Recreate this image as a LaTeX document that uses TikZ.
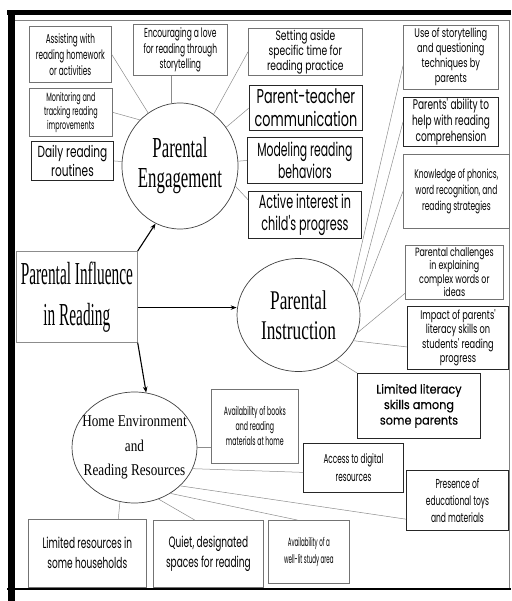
\documentclass[tikz,border=0pt]{standalone}
\usepackage{fontspec}
\usepackage{tikz}
\usetikzlibrary{shapes.geometric,positioning,arrows.meta}
\newfontfamily\gothfont{Poppins}
\newfontfamily\serfont{Liberation Serif}
\newcommand\leaffont[3]{\gothfont\addfontfeatures{FakeStretch=#1}\fontsize{#2}{#3}\selectfont}
\newcommand\hubfont[3]{\serfont\addfontfeatures{FakeStretch=#1}\fontsize{#2}{#3}\selectfont}
\tikzset{
  leaf/.style={draw=black!55, line width=0.7pt, align=center, inner sep=1pt, anchor=north west},
  leafdark/.style={leaf, draw=black!85, line width=0.9pt},
  hub/.style={ellipse, draw=black!75, line width=0.7pt, align=center, inner sep=-12pt},
  link/.style={draw=black!45, line width=0.5pt},
  feed/.style={-{Stealth[length=6pt,width=4.5pt]}, line width=1.1pt},
}

\begin{document}
\begin{tikzpicture}[x=1pt,y=-1pt]
                   \useasboundingbox (0,0) rectangle (511,601);
                   \fill (7,10) rectangle (511,15);
                   \draw[black!50, line width=0.6pt] (14,20) -- (509,20) -- (509,588);
                   \fill (8,15) rectangle (14.5,601);
                   \fill (7,587.5) rectangle (511,590);

                   \node[hub, minimum width=116, minimum height=126, font={\hubfont{0.58}{29}{30}}] (p_eng) at (180,166) {Parental\\Engagement};
                   \node[hub, minimum width=123, minimum height=113, font={\hubfont{0.64}{27}{30}}] (p_ins) at (298.5,315) {Parental\\Instruction};
                   \node[hub, minimum width=125, minimum height=111, font={\hubfont{0.8}{16.5}{24.5}}] (p_home) at (134.5,447.5) {Home Environment\\and\\Reading Resources};
                   \node[leaf, draw=black!45, minimum width=121, minimum height=91, font={\hubfont{0.48}{32}{41}}] (p_root) at (16,251) {Parental Influence\\in Reading};

                   \node[leaf, minimum width=82, minimum height=56, font={\leaffont{0.56}{13}{16}}] (e_1) at (29,26) {Assisting with\\reading homework\\or activities};
                   \node[leaf, minimum width=94, minimum height=51, font={\leaffont{0.58}{13}{15.5}}] (e_2) at (133,24) {Encouraging a love\\for reading through\\storytelling};
                   \node[leaf, minimum width=114, minimum height=47, font={\leaffont{0.68}{13.5}{15}}] (e_3) at (248,28) {Setting aside\\specific time for\\reading practice};
                   \node[leaf, minimum width=83, minimum height=48, font={\leaffont{0.54}{12}{14}}] (e_4) at (29,88) {Monitoring and\\tracking reading\\improvements};
                   \node[leafdark, minimum width=113, minimum height=45, font={\leaffont{0.64}{20}{23}}] (e_5) at (249,85) {Parent-teacher\\communication};
                   \node[leafdark, minimum width=82, minimum height=39, font={\leaffont{0.66}{16}{19}}] (e_6) at (31,141) {Daily reading\\routines};
                   \node[leafdark, minimum width=115, minimum height=46, font={\leaffont{0.57}{19}{22}}] (e_7) at (247,137) {Modeling reading\\behaviors};
                   \node[leafdark, minimum width=113, minimum height=47, font={\leaffont{0.59}{19}{22}}] (e_8) at (248,191) {Active interest in\\child's progress};

                   \node[leaf, minimum width=95, minimum height=64, font={\leaffont{0.66}{12.5}{15}}] (i_1) at (403,25) {Use of storytelling\\and questioning\\techniques by\\parents};
                   \node[leafdark, minimum width=95, minimum height=49, font={\leaffont{0.64}{14}{16}}] (i_2) at (403,97) {Parents' ability to\\help with reading\\comprehension};
                   \node[leaf, minimum width=106, minimum height=74, font={\leaffont{0.6}{12.5}{16}}] (i_3) at (403,154) {Knowledge of phonics,\\word recognition, and\\reading strategies};
                   \node[leaf, minimum width=98, minimum height=54, font={\leaffont{0.66}{12}{13.5}}] (i_4) at (405,245) {Parental challenges\\in explaining\\complex words or\\ideas};
                   \node[leafdark, minimum width=101, minimum height=63, font={\leaffont{0.66}{12.5}{14.5}}] (i_5) at (407,306) {Impact of parents'\\literacy skills on\\students' reading\\progress};
                   \node[leafdark, minimum width=123, minimum height=65, font={\leaffont{0.9}{12.5}{15.5}\addfontfeatures{FakeBold=0.3}}] (i_6) at (357,373) {Limited literacy\\skills among\\some parents};

                   \node[leaf, minimum width=87, minimum height=74, font={\leaffont{0.52}{12}{15}}] (h_1) at (211,389) {Availability of books\\and reading\\materials at home};
                   \node[leafdark, minimum width=100, minimum height=49, font={\leaffont{0.56}{13}{18}}] (h_2) at (303,443) {Access to digital\\resources};
                   \node[leafdark, minimum width=102, minimum height=60, font={\leaffont{0.58}{13}{17}}] (h_3) at (406,470) {Presence of\\educational toys\\and materials};
                   \node[leaf, minimum width=118, minimum height=68, font={\leaffont{0.6}{15}{20}}] (h_4) at (28,519) {Limited resources in\\some households};
                   \node[leaf, minimum width=110, minimum height=67, font={\leaffont{0.6}{15}{20}}] (h_5) at (153,520) {Quiet, designated\\spaces for reading};
                   \node[leaf, minimum width=81, minimum height=63, font={\leaffont{0.46}{12}{17}}] (h_6) at (268,520) {Availability of a\\well-lit study area};

                    \path[link]
                    (e_1.east) edge (p_eng.121)
                    (e_2.250) edge (e_2.250 |- p_eng.north)
                    (e_3.west) edge (p_eng.57)
                    (e_4.east) edge (p_eng.131)
                    (e_5.west) edge (p_eng.40)
                    (e_6.east) edge (p_eng)
                    (e_7.west) edge (p_eng)
                    (e_8.165) edge (p_eng.-20)
                    (i_1.190) edge (p_ins.28)
                    (i_2.west) edge (p_ins.18)
                    (i_3.west) edge (p_ins.10)
                    (i_4.203) edge (p_ins.-17)
                    (i_5.190) edge (p_ins.-25)
                    (i_6.north west) edge (p_ins.-50)
                    (h_1.205) edge (h_1.205 -| p_home.east)
                    (h_2.185) edge (p_home.-20)
                    (h_3.200) edge (p_home.-40)
                    (h_4.48) edge (p_home.-105)
                    (h_5.112) edge (p_home.-65)
                    (h_6.110) edge (p_home.-52)
                    ;
                    \path[feed]
                    (p_root.north east) edge (p_eng.-113)
                    (p_root.-10) edge (p_root.-10 -| p_ins.west)
                    (p_root.south east) edge (p_home.78)
                    ;
\end{tikzpicture}
\end{document}
